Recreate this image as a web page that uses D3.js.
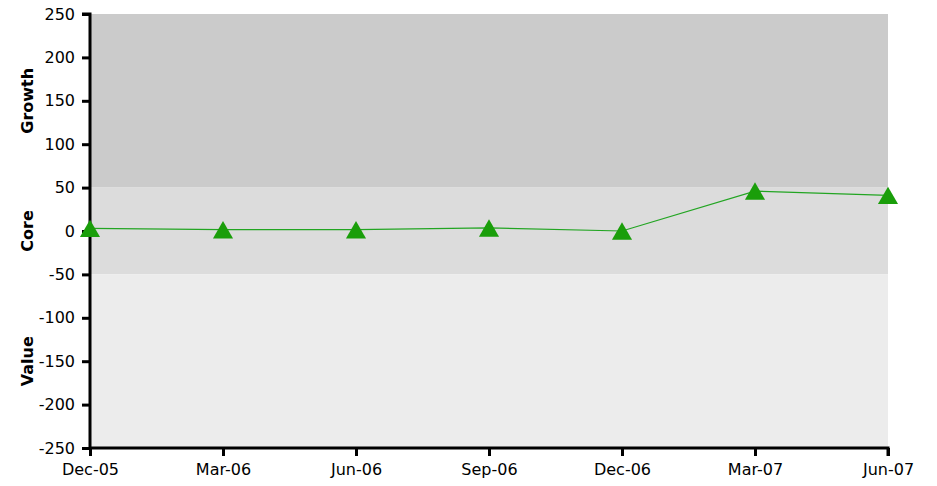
<!DOCTYPE html>
<html>
<head>
<meta charset="utf-8">
<style>
  body { margin: 0; background: #fff; }
  svg text { font-family: "DejaVu Sans", Verdana, sans-serif; }
</style>
</head>
<body>
<svg width="937" height="486"></svg>
<script src="https://d3js.org/d3.v7.min.js"></script>
<script>

var quarters = ["Dec-05", "Mar-06", "Jun-06", "Sep-06", "Dec-06", "Mar-07", "Jun-07"];
var values = [3, 1.5, 1.5, 3.5, 0, 46, 41];
var yTicks = [250, 200, 150, 100, 50, 0, -50, -100, -150, -200, -250];
var bandNames = ["Growth", "Core", "Value"];
var bandFrom = [50, -50, -250];
var bandTo = [250, 50, -50];
var bandColors = ["#cbcbcb", "#dcdcdc", "#ececec"];

var svg = d3.select("svg"),
    plotLeft = 90, plotRight = 888, plotTop = 14, plotBottom = 448;

var x = d3.scalePoint().domain(quarters).range([plotLeft, plotRight]);
var y = d3.scaleLinear().domain([-250, 250]).range([plotBottom, plotTop]);

// background bands
svg.selectAll("rect.band")
  .data(bandNames)
  .enter().append("rect")
    .attr("class", "band")
    .attr("x", plotLeft)
    .attr("width", plotRight - plotLeft)
    .attr("y", function(d, i) { return y(bandTo[i]); })
    .attr("height", function(d, i) { return y(bandFrom[i]) - y(bandTo[i]); })
    .attr("fill", function(d, i) { return bandColors[i]; });

// band labels
svg.selectAll("text.bandlabel")
  .data(bandNames)
  .enter().append("text")
    .attr("class", "bandlabel")
    .attr("transform", function(d, i) {
      return "translate(33," + y((bandFrom[i] + bandTo[i]) / 2) + ") rotate(-90)";
    })
    .attr("text-anchor", "middle")
    .style("font-size", "16px")
    .style("font-weight", "bold")
    .text(function(d) { return d; });

var yAxis = svg.append("g")
    .attr("transform", "translate(" + plotLeft + ",0)")
    .call(d3.axisLeft(y).tickValues(yTicks).tickSize(8).tickPadding(7).tickFormat(function(d) { return String(d); }));

var xAxis = svg.append("g")
    .attr("transform", "translate(0," + plotBottom + ")")
    .call(d3.axisBottom(x).tickSize(8).tickPadding(8));

[yAxis, xAxis].forEach(function(a) {
  a.select(".domain").attr("stroke", "#000").attr("stroke-width", 3);
  a.selectAll(".tick line").attr("stroke", "#000").attr("stroke-width", 3);
  a.selectAll(".tick text").attr("fill", "#000").style("font-size", "16px").style("font-family", "'DejaVu Sans', Verdana, sans-serif");
});
yAxis.select(".domain").attr("d", "M-8," + plotTop + "H0V" + plotBottom);
xAxis.select(".domain").attr("d", "M" + plotLeft + ",0H" + plotRight + "V8");

var line = d3.line()
    .x(function(d, i) { return x(quarters[i]); })
    .y(function(d) { return y(d); });

svg.append("path")
    .datum(values)
    .attr("fill", "none")
    .attr("stroke", "#22a522")
    .attr("stroke-width", 1.2)
    .attr("d", line);

var triSize = 175,
    triH = Math.sqrt(triSize * Math.sqrt(3)) ; // triangle height
var tri = d3.symbol().type(d3.symbolTriangle).size(triSize);

svg.selectAll("path.pt")
  .data(values)
  .enter().append("path")
    .attr("class", "pt")
    .attr("d", tri)
    .attr("transform", function(d, i) { return "translate(" + x(quarters[i]) + "," + (y(d) + triH / 6) + ")"; })
    .attr("fill", "#1a9e0a");

</script>
</body>
</html>
